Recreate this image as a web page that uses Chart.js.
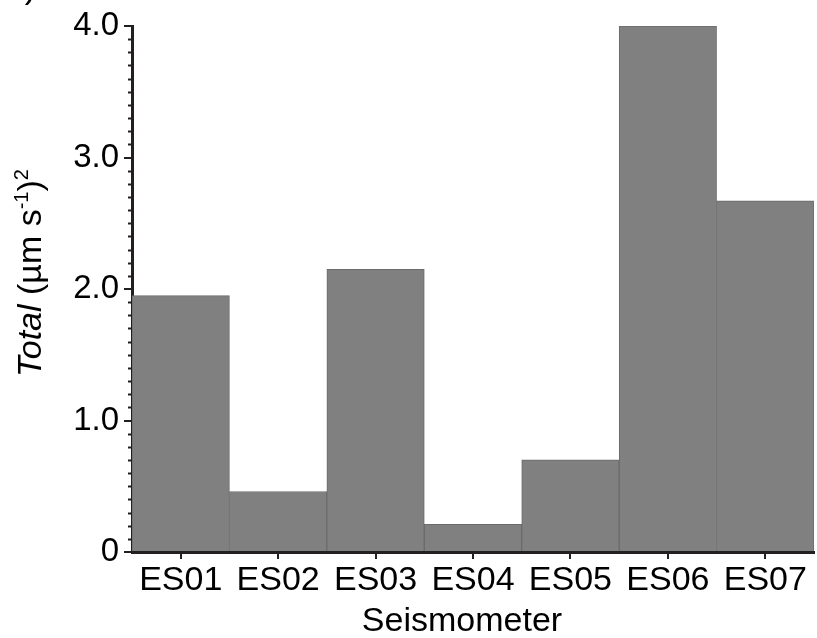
<!DOCTYPE html>
<html>
<head>
<meta charset="utf-8">
<script src="https://cdn.jsdelivr.net/npm/chart.js@4/dist/chart.umd.min.js"></script>
<style>
  html, body { margin: 0; padding: 0; background: #fff; }
  #wrap { width: 817px; height: 638px; }
</style>
</head>
<body>
<div id="wrap"><canvas id="myChart" width="817" height="638"></canvas></div>
<script>
// Data
const stations = ['ES01', 'ES02', 'ES03', 'ES04', 'ES05', 'ES06', 'ES07'];
const totals = [1.95, 0.46, 2.15, 0.21, 0.70, 4.0, 2.67];
const yTicks = [0, 1, 2, 3, 4];

const FONT = '"Liberation Sans", Arial, Helvetica, sans-serif';
const AXIS = '#231f20';

// minor ticks on the y axis, axis titles and the cut-off panel letter
const decorations = {
  id: 'decorations',
  afterDraw(chart) {
    const ctx = chart.ctx;
    const y = chart.scales.y;
    const left = chart.chartArea.left;
    ctx.save();
    ctx.strokeStyle = AXIS;
    ctx.lineWidth = 2;
    for (let i = 1; i < 40; i++) {
      if (i % 10 === 0) continue;
      const py = Math.round(y.getPixelForValue(i / 10)) + 0.5;
      ctx.beginPath();
      ctx.moveTo(left - 4, py);
      ctx.lineTo(left, py);
      ctx.stroke();
    }

    // x title
    ctx.fillStyle = '#000';
    ctx.font = '34px ' + FONT;
    ctx.textAlign = 'center';
    ctx.textBaseline = 'alphabetic';
    ctx.fillText('Seismometer', 462, 631);

    // y title: Total (µm s-1)2 with italic and superscripts
    const parts = [
      { t: 'Total', f: 'italic 34px ' + FONT, dy: 0 },
      { t: ' (µm s', f: '34px ' + FONT, dy: 0 },
      { t: '-1', f: '20px ' + FONT, dy: -13 },
      { t: ')', f: '34px ' + FONT, dy: 0 },
      { t: '2', f: '20px ' + FONT, dy: -13 }
    ];
    let total = 0;
    parts.forEach(p => { ctx.font = p.f; p.w = ctx.measureText(p.t).width; total += p.w; });
    ctx.translate(41, 273);
    ctx.rotate(-Math.PI / 2);
    ctx.textAlign = 'left';
    let x = -total / 2;
    parts.forEach(p => {
      ctx.font = p.f;
      ctx.fillText(p.t, x, p.dy);
      x += p.w;
    });
    ctx.restore();

    // panel letter, mostly off the top edge
    ctx.save();
    ctx.fillStyle = '#000';
    ctx.font = '34px ' + FONT;
    ctx.textAlign = 'right';
    ctx.fillText(')', 36, -2);
    ctx.restore();
  }
};

new Chart(document.getElementById('myChart').getContext('2d'), {
  type: 'bar',
  data: {
    labels: stations,
    datasets: [{
      data: totals,
      backgroundColor: '#808080',
      borderColor: '#6b6b6b',
      borderWidth: 1,
      barPercentage: 1,
      categoryPercentage: 1
    }]
  },
  options: {
    responsive: false,
    animation: false,
    devicePixelRatio: 1,
    layout: { padding: { top: 26, right: 3, bottom: 0, left: 0 } },
    plugins: {
      legend: { display: false },
      tooltip: { enabled: false }
    },
    scales: {
      x: {
        offset: true,
        afterFit: s => { s.height = 86; },
        grid: {
          offset: false,
          drawOnChartArea: false,
          drawTicks: true,
          tickLength: 7,
          lineWidth: 2,
          color: AXIS
        },
        border: { display: true, color: AXIS, width: 3 },
        ticks: {
          color: '#000',
          font: { family: FONT, size: 34 },
          padding: 1,
          maxRotation: 0,
          autoSkip: false
        }
      },
      y: {
        min: 0,
        max: 4,
        afterFit: s => { s.width = 132; },
        afterBuildTicks: s => { s.ticks = yTicks.map(v => ({ value: v })); },
        grid: {
          drawOnChartArea: false,
          drawTicks: true,
          tickLength: 8,
          lineWidth: 2,
          color: AXIS
        },
        border: { display: true, color: AXIS, width: 3 },
        ticks: {
          color: '#000',
          font: { family: FONT, size: 33 },
          padding: 5,
          callback: v => v === 0 ? '0' : v.toFixed(1)
        }
      }
    }
  },
  plugins: [decorations]
});
</script>
</body>
</html>
